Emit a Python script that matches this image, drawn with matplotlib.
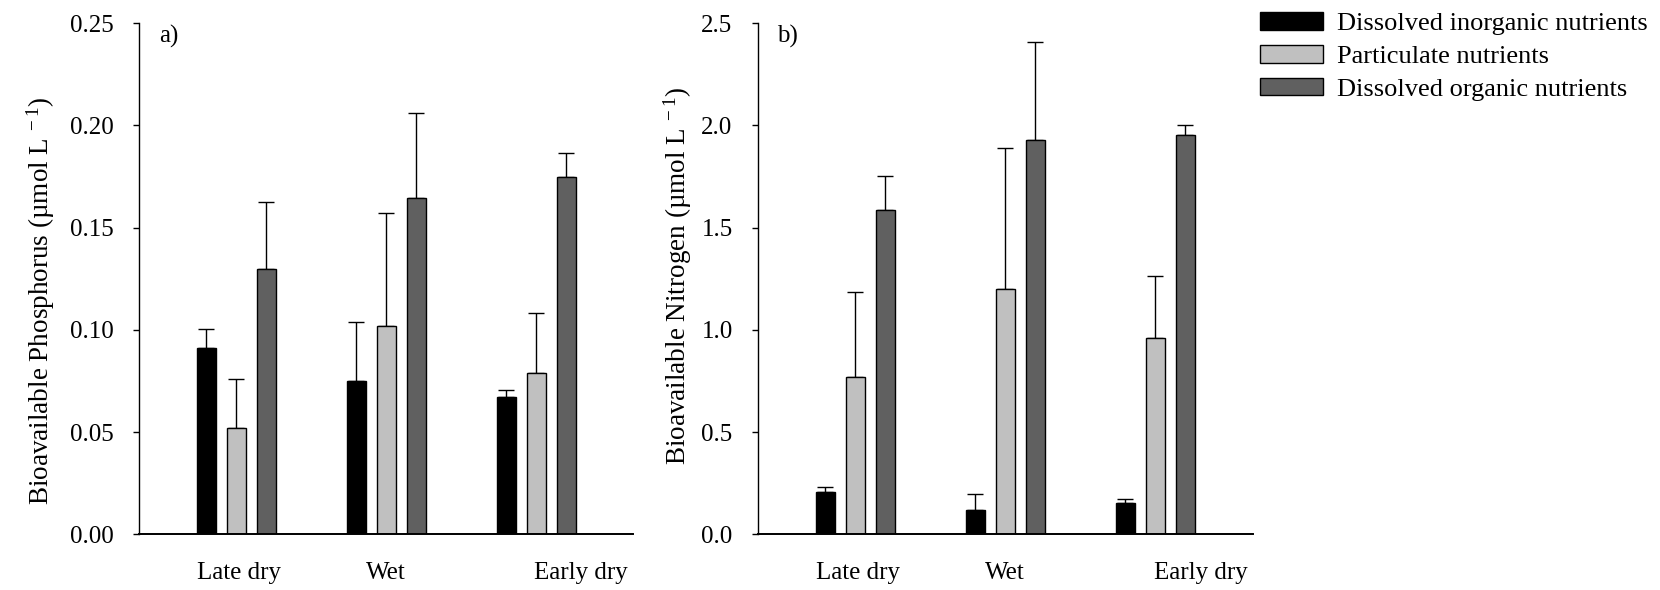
import matplotlib
matplotlib.use("Agg")
import matplotlib.pyplot as plt
import numpy as np

plt.rcParams['font.family'] = ['Liberation Serif', 'DejaVu Serif']
plt.rcParams['mathtext.fontset'] = 'custom'
plt.rcParams['mathtext.rm'] = 'Liberation Serif'
plt.rcParams['mathtext.it'] = 'Liberation Serif:italic'

seasons = ['Late dry', 'Wet', 'Early dry']
series = ['Dissolved inorganic nutrients', 'Particulate nutrients', 'Dissolved organic nutrients']
colors = ['#000000', '#c0c0c0', '#606060']

# phosphorus (umol/L), mean and upper error
p_inorg = [0.091, 0.075, 0.067]
p_inorg_err = [0.0093, 0.0287, 0.0038]
p_part = [0.052, 0.102, 0.079]
p_part_err = [0.0239, 0.0549, 0.0292]
p_org = [0.1296, 0.1644, 0.1748]
p_org_err = [0.0328, 0.0415, 0.0118]

# nitrogen (umol/L)
n_inorg = [0.205, 0.117, 0.151]
n_inorg_err = [0.028, 0.078, 0.023]
n_part = [0.770, 1.199, 0.961]
n_part_err = [0.417, 0.692, 0.303]
n_org = [1.586, 1.927, 1.953]
n_org_err = [0.166, 0.480, 0.047]

label_pos = [0.02, 1.0, 2.3]

fig = plt.figure(figsize=(16.6, 5.9), dpi=100)
axA = fig.add_axes([0.0837, 0.0944, 0.2978, 0.8666])
axB = fig.add_axes([0.4564, 0.0944, 0.2982, 0.8666])


def draw(ax, vals, errs, ylim, ticks, fmt, ylabel, tag):
    x = np.arange(len(seasons))
    w = 0.125
    bars = []
    for i, (v, e) in enumerate(zip(vals, errs)):
        b = ax.bar(x + (i - 1) * 0.2, v, w, color=colors[i], edgecolor='black',
                   linewidth=1.0, label=series[i], zorder=2)
        ax.errorbar(x + (i - 1) * 0.2, v, yerr=[np.zeros(len(e)), e], fmt='none',
                    ecolor='black', elinewidth=1.0, capsize=6, capthick=1.0, zorder=1)
        bars.append(b)
    ax.set_xlim(-0.65, 2.648)
    ax.set_ylim(*ylim)
    ax.set_yticks(ticks)
    ax.set_yticklabels([fmt.format(t) for t in ticks])
    ax.set_xticks(label_pos)
    ax.set_xticklabels(seasons)
    ax.tick_params(axis='x', length=0, pad=20, labelsize=18)
    ax.tick_params(axis='y', direction='out', length=4, width=1.0, pad=14, labelsize=18)
    ax.spines['top'].set_visible(False)
    ax.spines['right'].set_visible(False)
    ax.spines['left'].set_linewidth(1.0)
    ax.spines['bottom'].set_linewidth(1.4)
    ax.set_ylabel(ylabel, fontsize=19.5)
    ax.text(0.04, 0.973, tag, transform=ax.transAxes, fontsize=18, va='center', ha='left')
    return bars


draw(axA, [p_inorg, p_part, p_org], [p_inorg_err, p_part_err, p_org_err],
     (0, 0.25), [0, 0.05, 0.10, 0.15, 0.20, 0.25], '{:.2f}',
     'Bioavailable Phosphorus (µmol L$^{\\ -1}$)', 'a)')
bars = draw(axB, [n_inorg, n_part, n_org], [n_inorg_err, n_part_err, n_org_err],
            (0, 2.5), [0, 0.5, 1.0, 1.5, 2.0, 2.5], '{:.1f}',
            'Bioavailable Nitrogen (µmol L$^{\\ -1}$)', 'b)')
axA.yaxis.set_label_coords(-0.165, 0.456)
axB.yaxis.set_label_coords(-0.128, 0.505)

fig.legend(handles=bars, labels=series, loc='upper left',
           bbox_to_anchor=(1260 / 1660, 0.979), frameon=False, fontsize=19,
           handlelength=2.4, handleheight=0.65, handletextpad=0.5,
           labelspacing=0.36, borderpad=0, borderaxespad=0)

fig.savefig('out.png', dpi=100)
